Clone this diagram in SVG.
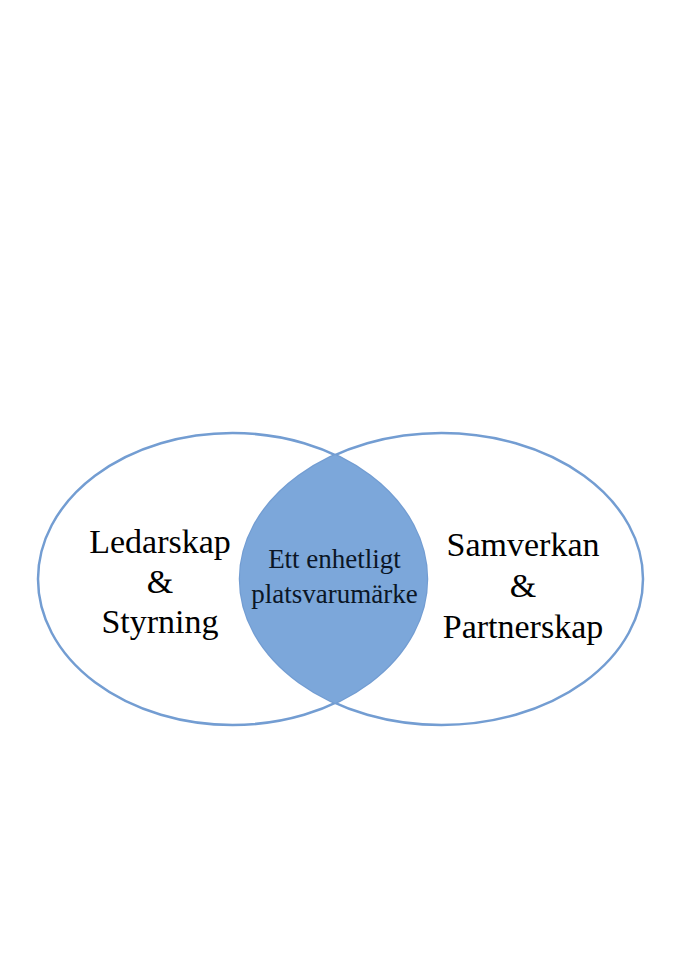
<svg xmlns="http://www.w3.org/2000/svg" width="679" height="960" viewBox="0 0 679 960">
<style>
.ring{fill:none;stroke:#739dd2;stroke-width:2.5}
.lens{fill:#7ca7da;stroke:none}
text{font-family:"Liberation Serif","Times New Roman",serif;fill:#000;text-anchor:middle}
.big{font-size:34px}
.mid{font-size:27px;fill:#0b1626}
</style>
<defs>
<clipPath id="clipL"><ellipse cx="232.5" cy="579" rx="194.5" ry="146"/></clipPath>
</defs>
<rect width="679" height="960" fill="#fff"/>
<g id="left">
<ellipse class="ring" cx="232.5" cy="579" rx="194.5" ry="146"/>
<text class="big" x="160" y="553">Ledarskap</text>
<text class="big" x="160" y="593">&amp;</text>
<text class="big" x="160" y="633">Styrning</text>
</g>
<g id="right">
<ellipse class="ring" cx="441.5" cy="579" rx="201.5" ry="146"/>
<text class="big" x="523" y="556">Samverkan</text>
<text class="big" x="523" y="597">&amp;</text>
<text class="big" x="523" y="638">Partnerskap</text>
</g>
<g id="overlap">
<ellipse class="lens" cx="441.5" cy="579" rx="201.5" ry="146" clip-path="url(#clipL)"/>
</g>
<g id="center">
<text class="mid" x="334.5" y="568">Ett enhetligt</text>
<text class="mid" x="334.5" y="602.5">platsvarumärke</text>
</g>
<g id="connectors"></g>
</svg>
